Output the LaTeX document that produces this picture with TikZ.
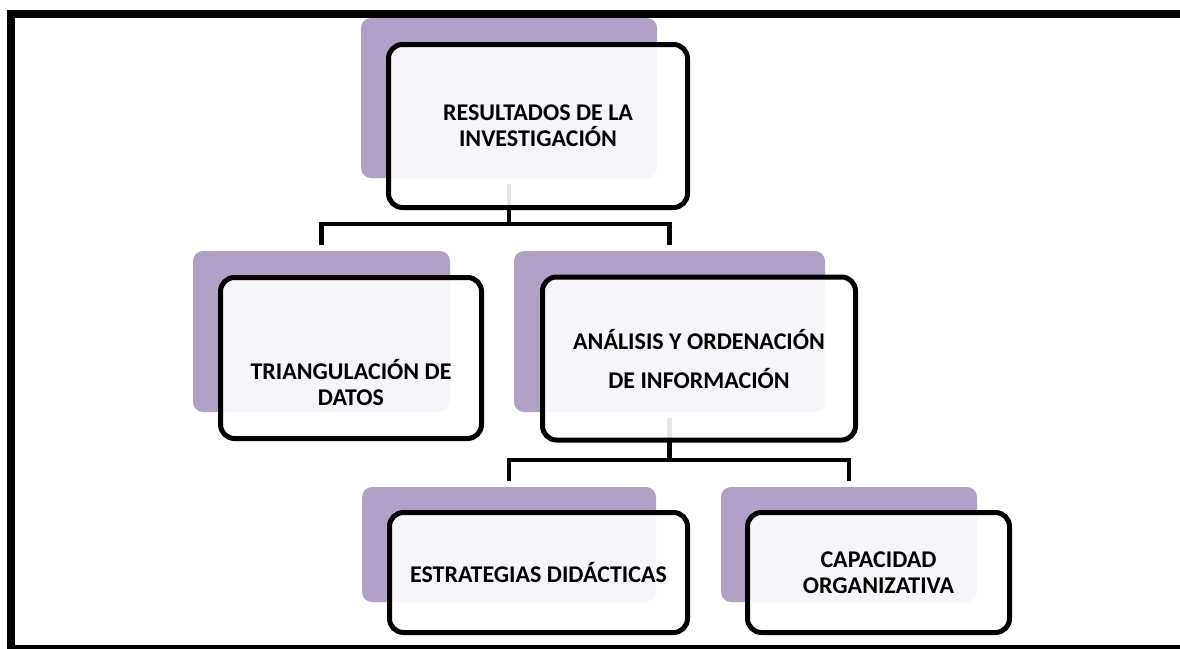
\documentclass[tikz,border=0pt]{standalone}
\usepackage{fontspec}
\setmainfont{Carlito}
\usepackage{xcolor}
\usepackage{tikz}
\usetikzlibrary{positioning}
\definecolor{lila}{HTML}{B2A1C7}

\begin{document}
\begin{tikzpicture}[
    x=1pt, y=-1pt,
    fondo/.style={rectangle, rounded corners=10pt, fill=lila, inner sep=0pt},
    caja/.style={rectangle, rounded corners=14pt, draw, line width=5pt, fill=white, fill opacity=0.9, text opacity=1, align=center, inner sep=0pt, font=\bfseries\fontsize{24}{26}\selectfont},
    linea/.style={line width=4.5pt}
]
\fill[white] (0,0) rectangle (1180,648);
\useasboundingbox (0,0) rectangle (1180,648);
% marco abierto a la derecha
\draw[line width=8pt] (1180,14) -- (11,14) -- (11,649) -- (1180,649);

% fondos lila
\node[fondo, minimum width=296pt, minimum height=160pt] (resbg) at (509,98) {};
\node[fondo, minimum width=257pt, minimum height=161pt] (triabg) at (321.5,331.5) {};
\node[fondo, minimum width=311pt, minimum height=161pt] (analbg) at (669.5,331.5) {};
\node[fondo, minimum width=294pt, minimum height=115pt] (estrbg) at (509,544.5) {};
\node[fondo, minimum width=256pt, minimum height=115pt] (capbg) at (849,544.5) {};

% conectores
\coordinate (bar1) at ([yshift=-46pt]resbg.south);
\coordinate (bar2) at ([yshift=-48pt]analbg.south);
\draw[linea, shorten <=6pt] (resbg.south) -- (bar1);
\draw[linea] ([yshift=6pt]triabg.north) |- (bar1) -| ([yshift=6pt]analbg.north);
\draw[linea, shorten <=6pt] (analbg.south) -- (bar2);
\draw[linea] ([yshift=6pt]estrbg.north) |- (bar2) -| ([yshift=6pt]capbg.north);

% cajas
\node[caja, minimum width=299pt, minimum height=163pt] (res) at ([shift={(29pt,-28pt)}]resbg.center) {RESULTADOS DE LA\\INVESTIGACIÓN};
\node[caja, minimum width=261pt, minimum height=161pt] (tria) at ([shift={(29.5pt,-26.5pt)}]triabg.center) {\raisebox{-35pt}[0pt][0pt]{\begin{tabular}{@{}c@{}}TRIANGULACIÓN DE\\DATOS\end{tabular}}};
\node[caja, minimum width=313pt, minimum height=163pt] (anal) at ([shift={(29.5pt,-27pt)}]analbg.center) {ANÁLISIS Y ORDENACIÓN\\[13pt]DE INFORMACIÓN};
\node[caja, minimum width=298pt, minimum height=120pt] (estr) at ([shift={(29.5pt,-28pt)}]estrbg.center) {ESTRATEGIAS DIDÁCTICAS};
\node[caja, minimum width=262pt, minimum height=120pt] (cap) at ([shift={(29.5pt,-28pt)}]capbg.center) {CAPACIDAD\\ORGANIZATIVA};
\end{tikzpicture}
\end{document}
